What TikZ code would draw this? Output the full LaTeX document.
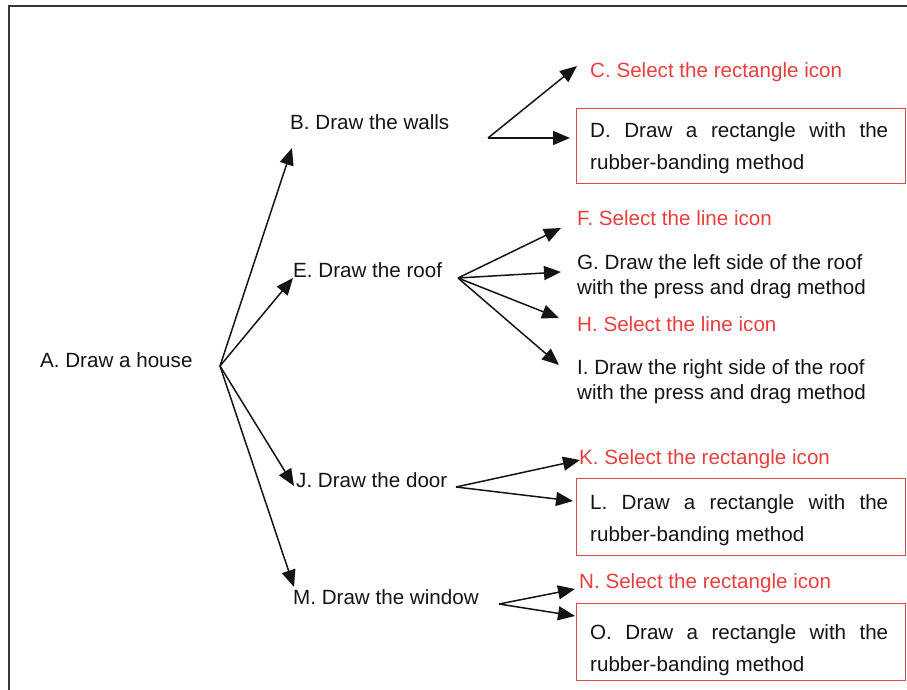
\documentclass[tikz,border=0pt]{standalone}
\usepackage{fontspec}
\setmainfont{Liberation Sans}
\usetikzlibrary{arrows.meta}
\definecolor{taskred}{RGB}{232,62,62}
\definecolor{boxred}{RGB}{222,72,72}
\definecolor{ink}{RGB}{20,20,20}
\begin{document}
\begin{tikzpicture}[x=1pt,y=-1pt,
  lbl/.style={inner sep=0pt,anchor=base west,text=ink,font=\fontsize{20.6}{25}\selectfont},
  redlbl/.style={lbl,text=taskred},
  twoline/.style={lbl,align=left},
  redbox/.style={draw=boxred,line width=1.4pt,anchor=north west,
    minimum width=329pt,inner sep=0pt},
  boxtext/.style={lbl,align=left,font=\fontsize{20.6}{32}\selectfont},
  arr/.style={draw=ink,line width=1.5pt,-{Triangle[length=17pt,width=14pt]}},
  frameline/.style={draw=ink!85,line width=2pt}]
\useasboundingbox (0,0) rectangle (907,690);

% outer frame (top and left edges)
\draw[frameline] (907,6) -- (9,6) -- (9,690);

% root and first-level subtasks
\node[lbl] (A) at (40,367) {A. Draw a house};
\node[lbl] (B) at (290,129) {B. Draw the walls};
\node[lbl] (E) at (293,277) {E. Draw the roof};
\node[lbl] (J) at (296,487) {J. Draw the door};
\node[lbl] (M) at (293,604) {M. Draw the window};

% walls (multi-line nodes are placed by the baseline of their last line)
\node[redlbl] (C) at (590,78) {C. Select the rectangle icon};
\node[redbox,minimum height=75pt] (D) at (576,108) {};
\node[boxtext] (Dt) at (590,169) {\makebox[298pt][s]{D. Draw a rectangle with the}\\rubber-banding method};

% roof
\node[redlbl] (F) at (577,225) {F. Select the line icon};
\node[twoline] (G) at (577,294) {G. Draw the left side of the roof\\with the press and drag method};
\node[redlbl] (H) at (577,331) {H. Select the line icon};
\node[twoline] (I) at (577,399) {I. Draw the right side of the roof\\with the press and drag method};

% door
\node[redlbl] (K) at (579,464) {K. Select the rectangle icon};
\node[redbox,minimum height=77pt] (L) at (576,478) {};
\node[boxtext] (Lt) at (590,541) {\makebox[298pt][s]{L. Draw a rectangle with the}\\rubber-banding method};

% window
\node[redlbl] (N) at (579,588) {N. Select the rectangle icon};
\node[redbox,minimum height=77pt] (O) at (576,603) {};
\node[boxtext] (Ot) at (590,671) {\makebox[298pt][s]{O. Draw a rectangle with the}\\rubber-banding method};

% branching points and arrow tips
\coordinate (A-out) at (220,366);
\coordinate (B-in) at (292,148);
\coordinate (E-in) at (293,278);
\coordinate (J-in) at (294,486);
\coordinate (M-in) at (294,587);

\coordinate (B-out) at (488,138);
\coordinate (C-in) at (577,66);
\coordinate (D-in) at (570,138);

\coordinate (E-out) at (458,278);
\coordinate (F-in) at (561,228);
\coordinate (G-in) at (561,272);
\coordinate (H-in) at (559,318);
\coordinate (I-in) at (559,365);

\coordinate (J-out) at (456,487);
\coordinate (K-in) at (580,460);
\coordinate (L-in) at (573,501);

\coordinate (M-out) at (499,604);
\coordinate (N-in) at (575,589);
\coordinate (O-in) at (575,616);

% connectors
\foreach \t in {B,E,J,M} \draw[arr] (A-out) -- (\t-in);
\foreach \t in {C,D} \draw[arr] (B-out) -- (\t-in);
\foreach \t in {F,G,H,I} \draw[arr] (E-out) -- (\t-in);
\foreach \t in {K,L} \draw[arr] (J-out) -- (\t-in);
\foreach \t in {N,O} \draw[arr] (M-out) -- (\t-in);
\end{tikzpicture}
\end{document}
